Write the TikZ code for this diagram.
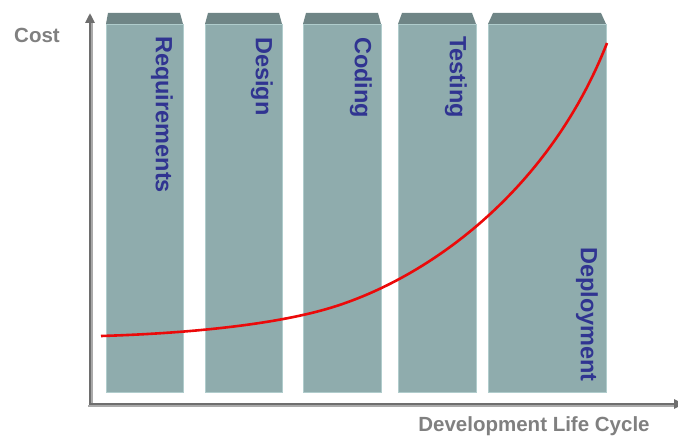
\documentclass[tikz,border=0pt]{standalone}
\usepackage{fontspec}
\setmainfont{Liberation Sans}
\usetikzlibrary{arrows.meta}
\definecolor{colbody}{RGB}{143,172,173}
\definecolor{colcap}{RGB}{111,133,134}
\definecolor{coledge}{RGB}{176,204,204}
\definecolor{lbl}{RGB}{48,52,145}
\definecolor{axisc}{RGB}{110,110,110}
\definecolor{axiss}{RGB}{170,170,170}
\definecolor{txtgray}{RGB}{128,128,128}
\definecolor{curvec}{RGB}{235,10,10}
\tikzset{
  body/.style={fill=colbody, draw=coledge, line width=0.7pt},
  capfill/.style={fill=colcap},
  phase/.style={rotate=-90, inner sep=0pt, text=lbl, font=\fontsize{23.5}{24}\selectfont\bfseries},
  axisline/.style={draw=axisc, line width=2.6pt, -{Triangle[length=10pt,width=9pt]}},
  axisshadow/.style={draw=axiss, line width=2.6pt},
  axlabel/.style={text=txtgray, inner sep=0pt, font=\fontsize{20.5}{22}\selectfont\bfseries},
  costcurve/.style={draw=curvec, line width=2.6pt}
}
\begin{document}
\begin{tikzpicture}[x=1pt,y=1pt]
\useasboundingbox (0,0) rectangle (678,439);
% columns
\foreach \bl/\br/\cl/\cr in {106/183/108/180, 205/282/208/279, 303/381/306/378, 398/476/402/472, 488/606/493/601}{
  \fill[capfill] (\bl,415) -- (\cl,426) -- (\cr,426) -- (\br,415) -- cycle;
  \path[body] (\bl,47) rectangle (\br,415);
}
% labels
\node[phase, anchor=north west] (req) at (173,403) {Requirements};
\node[phase, anchor=north west] (des) at (273,402) {Design};
\node[phase, anchor=north west] (cod) at (372,402) {Coding};
\node[phase, anchor=north west] (tes) at (467,403) {Testing};
\node[phase, anchor=north east] (dep) at (598,57) {Deployment};
% axes
\coordinate (o) at (90,35);
\coordinate (ytop) at (90,426);
\coordinate (xend) at (684,35);
\draw[axisshadow] (92,33) -- (92,418);
\draw[axisshadow] (88,33) -- (678,33);
\draw[axisline] (90,34) -- (ytop);
\draw[axisline] (88.7,35) -- (xend);
\node[axlabel] (cost) at (37,404) {Cost};
\node[axlabel] (dlc) at (534,13) {Development Life Cycle};
% curve
\coordinate (c0) at (101,103);
\coordinate (c1) at (330,131);
\coordinate (c2) at (607,396);
\draw[costcurve] (c0) .. controls (200,106) and (280,116) .. (c1) .. controls (430,161) and (550,250) .. (c2);
\end{tikzpicture}
\end{document}
